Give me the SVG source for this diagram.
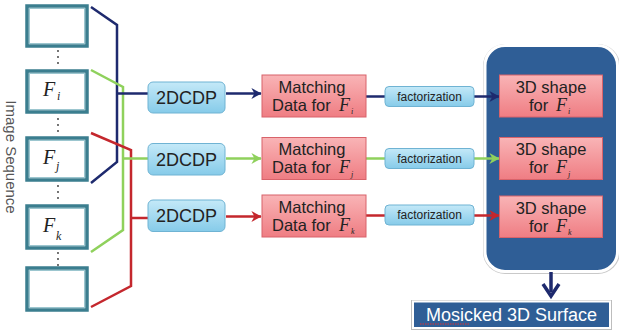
<svg xmlns="http://www.w3.org/2000/svg" width="619" height="332" viewBox="0 0 619 332">
  <defs>
    <linearGradient id="gBlue" x1="0" y1="0" x2="0" y2="1">
      <stop offset="0" stop-color="#c4e9f8"/>
      <stop offset="1" stop-color="#86cbe9"/>
    </linearGradient>
    <linearGradient id="gPink" x1="0" y1="0" x2="0" y2="1">
      <stop offset="0" stop-color="#f9b4b6"/>
      <stop offset="1" stop-color="#ef7d83"/>
    </linearGradient>
    <marker id="aNavy" viewBox="0 0 10 10" refX="9" refY="5" markerWidth="12" markerHeight="12" markerUnits="userSpaceOnUse" orient="auto">
      <path d="M1,0.5 L9.5,5 L1,9.5 L3.5,5 Z" fill="#1e2a6e"/>
    </marker>
    <marker id="aGreen" viewBox="0 0 10 10" refX="9" refY="5" markerWidth="12" markerHeight="12" markerUnits="userSpaceOnUse" orient="auto">
      <path d="M1,0.5 L9.5,5 L1,9.5 L3.5,5 Z" fill="#8fd15c"/>
    </marker>
    <marker id="aRed" viewBox="0 0 10 10" refX="9" refY="5" markerWidth="12" markerHeight="12" markerUnits="userSpaceOnUse" orient="auto">
      <path d="M1,0.5 L9.5,5 L1,9.5 L3.5,5 Z" fill="#c4272d"/>
    </marker>
  </defs>
  <style>
    .frame { fill: #ffffff; stroke: #3b7e8f; stroke-width: 3.5; }
    .frameIn { fill: none; stroke: #9cc6cf; stroke-width: 1; }
    .dots { fill: #333; }
    .proc { fill: url(#gBlue); stroke: #6fb3d3; stroke-width: 1; }
    .data { fill: url(#gPink); stroke: #d8636a; stroke-width: 1; }
    .sans { font-family: "Liberation Sans", Arial, sans-serif; fill: #222; }
    .math { font-family: "Liberation Serif", "Times New Roman", serif; font-style: italic; fill: #222; }
    .navy { stroke: #1e2a6e; }
    .green { stroke: #8fd15c; }
    .red { stroke: #c4272d; }
    .ln { fill: none; stroke-width: 2.5; stroke-linejoin: miter; }
  </style>

  <rect width="619" height="332" fill="#ffffff"/>

  <!-- image sequence label -->
  <text class="sans" x="0" y="0" font-size="15" text-anchor="middle" transform="translate(6,157) rotate(90)" style="fill:#555">Image Sequence</text>

  <!-- frames of the sequence -->
  <g id="frame-top">
    <rect class="frame" x="27" y="6" width="60" height="40"/>
    <rect class="frameIn" x="29.5" y="8.5" width="55" height="35"/>
  </g>
  <g id="frame-i">
    <rect class="frame" x="27" y="71" width="60" height="41"/>
    <rect class="frameIn" x="29.5" y="73.5" width="55" height="36"/>
    <text class="math" x="43" y="96" font-size="20">F</text>
    <text class="math" x="57" y="100" font-size="12">i</text>
  </g>
  <g id="frame-j">
    <rect class="frame" x="27" y="138" width="60" height="42"/>
    <rect class="frameIn" x="29.5" y="140.5" width="55" height="37"/>
    <text class="math" x="43" y="164" font-size="20">F</text>
    <text class="math" x="56" y="170" font-size="12">j</text>
  </g>
  <g id="frame-k">
    <rect class="frame" x="27" y="206" width="60" height="42"/>
    <rect class="frameIn" x="29.5" y="208.5" width="55" height="37"/>
    <text class="math" x="43" y="232" font-size="20">F</text>
    <text class="math" x="56" y="240" font-size="12">k</text>
  </g>
  <g id="frame-bottom">
    <rect class="frame" x="27" y="268" width="60" height="42"/>
    <rect class="frameIn" x="29.5" y="270.5" width="55" height="37"/>
  </g>
  <!-- ellipsis dots between frames -->
  <g id="ellipses" class="dots">
    <circle cx="58" cy="51" r="0.9"/><circle cx="58" cy="57" r="0.9"/><circle cx="58" cy="63" r="0.9"/>
    <circle cx="58" cy="119" r="0.9"/><circle cx="58" cy="125" r="0.9"/><circle cx="58" cy="131" r="0.9"/>
    <circle cx="58" cy="186" r="0.9"/><circle cx="58" cy="192" r="0.9"/><circle cx="58" cy="198" r="0.9"/>
    <circle cx="58" cy="253" r="0.9"/><circle cx="58" cy="259" r="0.9"/><circle cx="58" cy="265" r="0.9"/>
  </g>

  <!-- 3D reconstruction container (behind the arrows that enter it) -->
  <g id="container">
    <rect x="483" y="44" width="137" height="230" rx="22" fill="#c9c9c9"/>
    <rect x="485" y="45.5" width="132.5" height="226" rx="20" fill="#2f5e96" stroke="#ffffff" stroke-width="3"/>
  </g>

  <!-- connectors -->
  <g id="connectors">
    <!-- brackets gathering frames -->
    <path class="ln navy" d="M91,7 L117,25 L117,162 L91,183"/>
    <path class="ln green" d="M91,70 L123,87 L123,230 L91,252"/>
    <path class="ln red" d="M91,133 L131,150 L131,286 L91,307"/>
    <!-- bracket to 2DCDP -->
    <path class="ln navy" d="M117,93.5 L148,93.5"/>
    <path class="ln green" d="M123,158.5 L148,158.5"/>
    <path class="ln red" d="M131,218 L148,218"/>
    <!-- 2DCDP to matching data -->
    <path class="ln navy" d="M226,93.5 L261,93.5" marker-end="url(#aNavy)"/>
    <path class="ln green" d="M226,158.5 L261,158.5" marker-end="url(#aGreen)"/>
    <path class="ln red" d="M226,216.5 L261,216.5" marker-end="url(#aRed)"/>
    <!-- matching data to factorization -->
    <path class="ln navy" d="M366,96.5 L385,96.5"/>
    <path class="ln green" d="M366,158.5 L385,158.5"/>
    <path class="ln red" d="M366,215.5 L385,215.5"/>
    <!-- factorization to 3D shape -->
    <path class="ln navy" d="M474,96.5 L499,96.5" marker-end="url(#aNavy)"/>
    <path class="ln green" d="M474,158.5 L499,158.5" marker-end="url(#aGreen)"/>
    <path class="ln red" d="M474,215.5 L499,215.5" marker-end="url(#aRed)"/>
    <!-- container to final surface -->
    <path d="M551,272 L551,292" stroke="#1e2a6e" stroke-width="3.5" fill="none"/>
    <path d="M543,284 L551,296 L559,284" stroke="#1e2a6e" stroke-width="3.5" fill="none" stroke-linejoin="miter"/>
  </g>

  <!-- 2DCDP steps -->
  <g id="cdp-i">
    <rect class="proc" x="148" y="82" width="77" height="31" rx="5"/>
    <text class="sans" x="186.5" y="103.5" font-size="18" text-anchor="middle">2DCDP</text>
  </g>
  <g id="cdp-j">
    <rect class="proc" x="148" y="143.5" width="77" height="31.5" rx="5"/>
    <text class="sans" x="186.5" y="165.5" font-size="18" text-anchor="middle">2DCDP</text>
  </g>
  <g id="cdp-k">
    <rect class="proc" x="148" y="200" width="77" height="31.5" rx="5"/>
    <text class="sans" x="186.5" y="222" font-size="18" text-anchor="middle">2DCDP</text>
  </g>

  <!-- matching data -->
  <g id="match-i">
    <rect class="data" x="262" y="75" width="104" height="42"/>
    <text class="sans" x="312" y="93" font-size="16.5" text-anchor="middle">Matching</text>
    <text class="sans" x="272" y="111" font-size="16.5">Data for</text>
    <text class="math" x="339" y="111" font-size="18">F</text>
    <text class="math" x="351" y="114" font-size="8">i</text>
  </g>
  <g id="match-j">
    <rect class="data" x="262" y="137.5" width="104" height="42"/>
    <text class="sans" x="312" y="155" font-size="16.5" text-anchor="middle">Matching</text>
    <text class="sans" x="272" y="173" font-size="16.5">Data for</text>
    <text class="math" x="339" y="173" font-size="18">F</text>
    <text class="math" x="351" y="177" font-size="8">j</text>
  </g>
  <g id="match-k">
    <rect class="data" x="262" y="195" width="104" height="42"/>
    <text class="sans" x="312" y="213" font-size="16.5" text-anchor="middle">Matching</text>
    <text class="sans" x="272" y="231" font-size="16.5">Data for</text>
    <text class="math" x="339" y="231" font-size="18">F</text>
    <text class="math" x="351" y="234" font-size="8">k</text>
  </g>

  <!-- factorization steps -->
  <g id="fact-i">
    <rect class="proc" x="385" y="86.5" width="89" height="20" rx="4"/>
    <text class="sans" x="429.5" y="100.5" font-size="12" text-anchor="middle">factorization</text>
  </g>
  <g id="fact-j">
    <rect class="proc" x="385" y="148.5" width="89" height="20" rx="4"/>
    <text class="sans" x="429.5" y="162.5" font-size="12" text-anchor="middle">factorization</text>
  </g>
  <g id="fact-k">
    <rect class="proc" x="385" y="205" width="89" height="20" rx="4"/>
    <text class="sans" x="429.5" y="219" font-size="12" text-anchor="middle">factorization</text>
  </g>

  <g id="shape-i">
    <rect class="data" x="499.5" y="75" width="103" height="42"/>
    <text class="sans" x="551" y="93" font-size="16.5" text-anchor="middle">3D shape</text>
    <text class="sans" x="529" y="111" font-size="16.5">for</text>
    <text class="math" x="556" y="111" font-size="18">F</text>
    <text class="math" x="568" y="114" font-size="8">i</text>
  </g>
  <g id="shape-j">
    <rect class="data" x="499.5" y="137.5" width="103" height="42"/>
    <text class="sans" x="551" y="155" font-size="16.5" text-anchor="middle">3D shape</text>
    <text class="sans" x="529" y="173" font-size="16.5">for</text>
    <text class="math" x="556" y="173" font-size="18">F</text>
    <text class="math" x="568" y="177" font-size="8">j</text>
  </g>
  <g id="shape-k">
    <rect class="data" x="499.5" y="196" width="103" height="41.5"/>
    <text class="sans" x="551" y="214" font-size="16.5" text-anchor="middle">3D shape</text>
    <text class="sans" x="529" y="232" font-size="16.5">for</text>
    <text class="math" x="556" y="232" font-size="18">F</text>
    <text class="math" x="568" y="235" font-size="8">k</text>
  </g>

  <!-- final surface -->
  <g id="surface">
    <rect x="411" y="300" width="201" height="30" fill="#bdbdbd"/>
    <rect x="413" y="301.5" width="197" height="26.5" fill="#2f5e96" stroke="#ffffff" stroke-width="2"/>
    <text x="511.5" y="320.5" font-family="'Liberation Sans', Arial, sans-serif" font-size="18" fill="#ffffff" text-anchor="middle">Mosicked 3D Surface</text>
    <path d="M420,324 L469,324" stroke="#e03030" stroke-width="1" stroke-dasharray="1.5 1"/>
  </g>
</svg>
